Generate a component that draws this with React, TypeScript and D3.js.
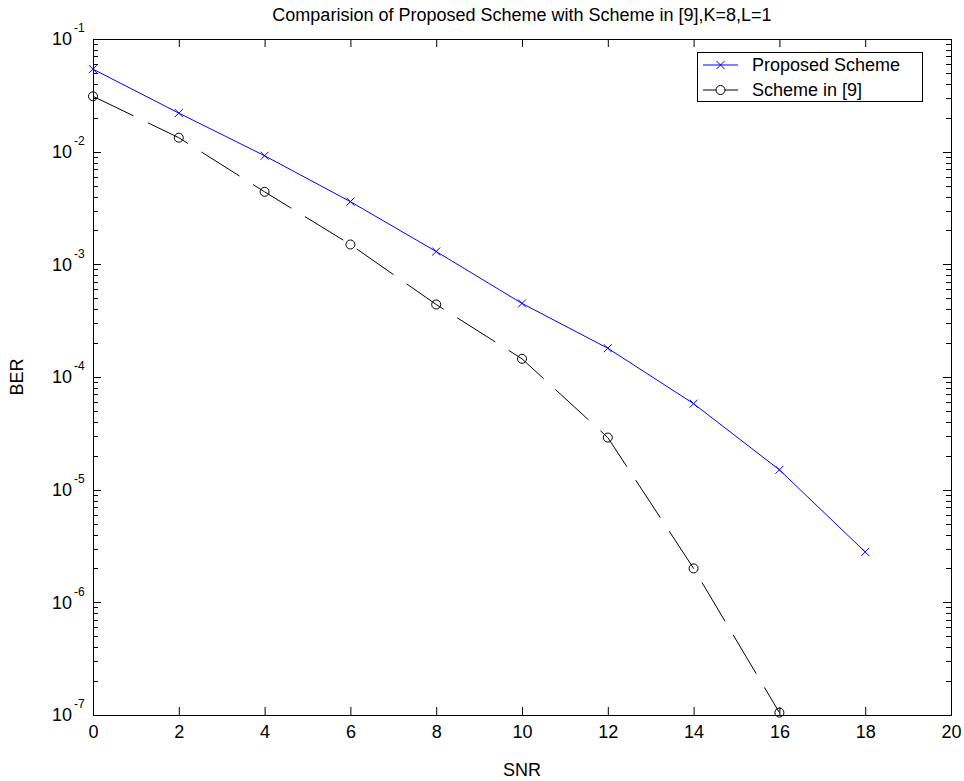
import React, { useEffect, useRef } from 'react';
import * as d3 from 'd3';

// SNR (dB) and BER
const snrProposed = [0, 2, 4, 6, 8, 10, 12, 14, 16, 18];
const berProposed = [0.054, 0.022, 0.0092, 0.0036, 0.0013, 4.5e-4, 1.8e-4, 5.8e-5, 1.5e-5, 2.8e-6];
const snrScheme9 = [0, 2, 4, 6, 8, 10, 12, 14, 16];
const berScheme9 = [0.031, 0.0133, 0.0044, 0.0015, 4.4e-4, 1.45e-4, 2.9e-5, 2e-6, 1.05e-7];
const xTicks = [0, 2, 4, 6, 8, 10, 12, 14, 16, 18, 20];
const yExponents = [-7, -6, -5, -4, -3, -2, -1];
const legendNames = ['Proposed Scheme', 'Scheme in [9]'];

const FONT = 'Liberation Sans, Arial, sans-serif';

const App = () => {
  const ref = useRef<SVGSVGElement>(null);

  useEffect(() => {
    const W = 964;
    const H = 781;
    const left = 93, right = 951, top = 39, bottom = 715;

    const svg = d3.select(ref.current);
    svg.selectAll('*').remove();

    const x = d3.scaleLinear().domain([0, 20]).range([left, right]);
    const y = d3.scaleLog().domain([1e-7, 1e-1]).range([bottom, top]);

    svg.append('rect').attr('width', W).attr('height', H).attr('fill', '#fff');

    // bottom axis (ticks pointing in)
    const gx = svg
      .append('g')
      .attr('transform', `translate(0,${bottom})`)
      .call(d3.axisBottom(x).tickValues(xTicks).tickSizeInner(-8).tickSizeOuter(0).tickPadding(10).tickFormat(d3.format('d')));
    gx.select('.domain').remove();
    gx.selectAll('text').attr('font-size', 18).attr('font-family', FONT).attr('fill', '#000');

    const gxt = svg
      .append('g')
      .attr('transform', `translate(0,${top})`)
      .call(d3.axisTop(x).tickValues(xTicks).tickSizeInner(-8).tickSizeOuter(0).tickFormat(() => ''));
    gxt.select('.domain').remove();

    // y ticks, major + minor, both sides
    const minor: number[] = [];
    yExponents.slice(0, -1).forEach((e) => {
      for (let k = 2; k <= 9; k++) minor.push(k * Math.pow(10, e));
    });
    const major = yExponents.map((e) => Math.pow(10, e));

    const yt = svg.append('g').attr('stroke', '#000').attr('stroke-width', 1);
    major.forEach((v) => {
      const yy = Math.round(y(v)) + 0.5;
      yt.append('line').attr('x1', left).attr('x2', left + 8).attr('y1', yy).attr('y2', yy);
      yt.append('line').attr('x1', right).attr('x2', right - 8).attr('y1', yy).attr('y2', yy);
    });
    minor.forEach((v) => {
      const yy = Math.round(y(v)) + 0.5;
      yt.append('line').attr('x1', left).attr('x2', left + 5).attr('y1', yy).attr('y2', yy);
      yt.append('line').attr('x1', right).attr('x2', right - 5).attr('y1', yy).attr('y2', yy);
    });

    const yl = svg.append('g').attr('font-family', FONT).attr('fill', '#000');
    yExponents.forEach((e) => {
      const yy = y(Math.pow(10, e));
      yl.append('text').attr('x', 72).attr('y', yy).attr('dy', '0.35em').attr('text-anchor', 'end').attr('font-size', 18).text('10');
      yl.append('text').attr('x', 74).attr('y', yy - 11).attr('dy', '0.35em').attr('font-size', 12).text(String(e));
    });

    // plot box
    svg
      .append('rect')
      .attr('x', left + 0.5)
      .attr('y', top + 0.5)
      .attr('width', right - left)
      .attr('height', bottom - top)
      .attr('fill', 'none')
      .attr('stroke', '#000')
      .attr('stroke-width', 1);

    const line = d3
      .line<[number, number]>()
      .x((d) => x(d[0]))
      .y((d) => y(d[1]));

    const propData: [number, number][] = snrProposed.map((s, i) => [s, berProposed[i]]);
    const refData: [number, number][] = snrScheme9.map((s, i) => [s, berScheme9[i]]);

    svg
      .append('path')
      .datum(refData)
      .attr('d', line)
      .attr('fill', 'none')
      .attr('stroke', '#000')
      .attr('stroke-width', 1)
      .attr('stroke-dasharray', '45,16');

    svg
      .append('path')
      .datum(propData)
      .attr('d', line)
      .attr('fill', 'none')
      .attr('stroke', '#0000ff')
      .attr('stroke-width', 1);

    const xMark = 'M-4,-4L4,4M-4,4L4,-4';

    svg
      .append('g')
      .selectAll('path')
      .data(propData)
      .enter()
      .append('path')
      .attr('transform', (d) => `translate(${x(d[0])},${y(d[1])})`)
      .attr('d', xMark)
      .attr('stroke', '#0000ff')
      .attr('fill', 'none');

    svg
      .append('g')
      .selectAll('circle')
      .data(refData)
      .enter()
      .append('circle')
      .attr('cx', (d) => x(d[0]))
      .attr('cy', (d) => y(d[1]))
      .attr('r', 4.5)
      .attr('stroke', '#000')
      .attr('fill', 'none');

    // legend
    const lg = svg.append('g');
    lg.append('rect')
      .attr('x', 697.5)
      .attr('y', 52.5)
      .attr('width', 225)
      .attr('height', 49)
      .attr('fill', '#fff')
      .attr('stroke', '#000');
    legendNames.forEach((name, i) => {
      const ly = 65 + i * 25;
      const col = i === 0 ? '#0000ff' : '#000';
      lg.append('line').attr('x1', 703).attr('x2', 738).attr('y1', ly).attr('y2', ly).attr('stroke', col);
      if (i === 0) {
        lg.append('path').attr('transform', `translate(720.5,${ly})`).attr('d', xMark).attr('stroke', col);
      } else {
        lg.append('circle').attr('cx', 720.5).attr('cy', ly).attr('r', 4.5).attr('stroke', col).attr('fill', '#fff');
      }
      lg.append('text')
        .attr('x', 752)
        .attr('y', ly)
        .attr('dy', '0.35em')
        .attr('font-family', FONT)
        .attr('font-size', 18)
        .attr('fill', '#000')
        .text(name);
    });

    // titles
    svg
      .append('text')
      .attr('x', (left + right) / 2)
      .attr('y', 21)
      .attr('text-anchor', 'middle')
      .attr('font-family', FONT)
      .attr('font-size', 18)
      .text('Comparision of Proposed Scheme with Scheme in [9],K=8,L=1');

    svg
      .append('text')
      .attr('x', (left + right) / 2)
      .attr('y', 776)
      .attr('text-anchor', 'middle')
      .attr('font-family', FONT)
      .attr('font-size', 18)
      .text('SNR');

    svg
      .append('text')
      .attr('transform', `translate(17,${(top + bottom) / 2}) rotate(-90)`)
      .attr('dy', '0.35em')
      .attr('text-anchor', 'middle')
      .attr('font-family', FONT)
      .attr('font-size', 18)
      .text('BER');
  }, []);

  return (
    <svg
      ref={ref}
      width={964}
      height={781}
      style={{ position: 'absolute', left: 0, top: 0, display: 'block' }}
    ></svg>
  );
};

export default App;
